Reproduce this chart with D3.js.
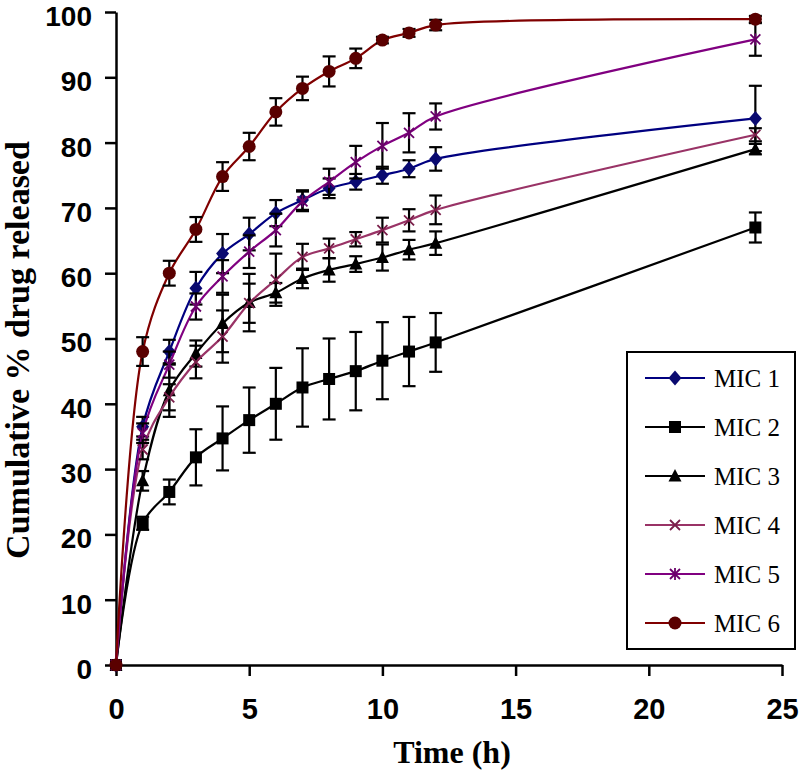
<!DOCTYPE html>
<html>
<head>
<meta charset="utf-8">
<script src="https://cdn.jsdelivr.net/npm/d3@7"></script>
<style>
  html, body { margin: 0; padding: 0; background: #fff; }
  svg { display: block; }
</style>
</head>
<body>
<svg id="chart" width="799" height="774"></svg>
<script>
// ---- data ----
const time = [0, 1, 2, 3, 4, 5, 6, 7, 8, 9, 10, 11, 12, 24];
const seriesNames = ["MIC 1", "MIC 2", "MIC 3", "MIC 4", "MIC 5", "MIC 6"];
const mic1 = [0, 36.5, 48, 57.7, 63, 66, 69.2, 71.2, 73, 74, 75, 76, 77.5, 83.7];
const mic1Err = [0, 1.5, 1.8, 2.5, 3, 2.5, 2, 1.5, 1.5, 1.2, 1.3, 1.3, 1.8, 5];
const mic2 = [0, 21.7, 26.5, 31.8, 34.7, 37.5, 40, 42.5, 43.8, 45, 46.6, 48, 49.4, 67];
const mic2Err = [0, 1, 1.9, 4.3, 4.9, 5, 5.5, 6, 6.2, 6, 5.9, 5.3, 4.5, 2.3];
const mic3 = [0, 28.2, 42, 47.7, 52.3, 55.5, 57, 59.2, 60.5, 61.4, 62.4, 63.6, 64.6, 79];
const mic3Err = [0, 1.5, 4, 2, 4.4, 4.4, 1.5, 1.5, 1.8, 1.2, 2, 1.5, 1.8, 0.8];
const mic4 = [0, 33, 41, 46.4, 50.3, 55.4, 59, 62.5, 63.8, 65.2, 66.6, 68.1, 69.7, 81.2];
const mic4Err = [0, 1.5, 2, 2.5, 4, 3, 4, 2, 1.5, 1.1, 1.9, 1.7, 2.2, 1];
const mic5 = [0, 35.5, 46, 54.9, 59.5, 63.3, 66.6, 71, 74, 77, 79.5, 81.5, 84, 95.8];
const mic5Err = [0, 1.5, 2, 2, 2.5, 2.5, 2.5, 1.5, 2, 2.5, 3.5, 3, 2, 2.5];
const mic6 = [0, 48, 60, 66.7, 74.8, 79.4, 84.7, 88.3, 90.9, 92.9, 95.7, 96.8, 98, 98.9];
const mic6Err = [0, 2.2, 1.9, 1.9, 2.2, 2.1, 2.1, 1.8, 2.3, 1.5, 0.5, 0.6, 0.8, 0.5];
const xTicks = [0, 5, 10, 15, 20, 25];
const yTicks = [0, 10, 20, 30, 40, 50, 60, 70, 80, 90, 100];

// ---- styles ----
const lineColors = ["#000080", "#000000", "#000000", "#993366", "#800080", "#800000"];
const markerColors = ["#0a0a70", "#000000", "#000000", "#7a1f4a", "#6a006a", "#5a0000"];
const markerTypes = ["diamond", "square", "triangle", "x", "star", "circle"];

const values = [mic1, mic2, mic3, mic4, mic5, mic6];
const errors = [mic1Err, mic2Err, mic3Err, mic4Err, mic5Err, mic6Err];
const series = seriesNames.map((name, i) => ({
  name, color: lineColors[i], mcolor: markerColors[i], marker: markerTypes[i],
  points: time.map((t, j) => ({ t, v: values[i][j], e: errors[i][j] }))
}));

const W = 799, H = 774;
const margin = { left: 116, right: 17, top: 12, bottom: 109 };
const svg = d3.select("#chart");

const x = d3.scaleLinear().domain([0, 25]).range([margin.left, W - margin.right]);
const y = d3.scaleLinear().domain([0, 100]).range([H - margin.bottom, margin.top]);

// axes
const xAxis = svg.append("g")
  .attr("transform", `translate(0,${y(0)})`)
  .call(d3.axisBottom(x).tickValues(xTicks).tickSize(11).tickSizeOuter(0).tickPadding(22));
const yAxis = svg.append("g")
  .attr("transform", `translate(${x(0)},0)`)
  .call(d3.axisLeft(y).tickValues(yTicks).tickSize(11).tickSizeOuter(0).tickPadding(13));
[xAxis, yAxis].forEach(g => {
  g.selectAll("path, line").attr("stroke", "#000").attr("stroke-width", 2.5);
  g.selectAll("text").attr("fill", "#000")
    .style("font-family", "'Liberation Sans', Arial, sans-serif")
    .style("font-weight", "bold").style("font-size", "28px");
});
xAxis.selectAll("text").style("font-size", "29px");
yAxis.selectAll("text").attr("dy", "0.48em");

// axis titles
svg.append("text")
  .attr("x", 452).attr("y", 763)
  .attr("text-anchor", "middle")
  .style("font-family", "'Liberation Serif', 'Times New Roman', serif")
  .style("font-weight", "bold").style("font-size", "32px")
  .text("Time (h)");
svg.append("text")
  .attr("transform", "translate(29,350) rotate(-90)")
  .attr("text-anchor", "middle")
  .style("font-family", "'Liberation Serif', 'Times New Roman', serif")
  .style("font-weight", "bold").style("font-size", "34px")
  .text("Cumulative % drug released");

// marker drawing
function drawMarker(g, type, color) {
  switch (type) {
    case "diamond":
      g.append("path").attr("d", "M0,-7.5L6.5,0L0,7.5L-6.5,0Z").attr("fill", color);
      break;
    case "square":
      g.append("rect").attr("x", -6).attr("y", -6).attr("width", 12).attr("height", 12).attr("fill", color);
      break;
    case "triangle":
      g.append("path").attr("d", "M0,-7L6.5,5.5L-6.5,5.5Z").attr("fill", color);
      break;
    case "x":
      g.append("path").attr("d", "M-5,-5L5,5M-5,5L5,-5").attr("stroke", color).attr("stroke-width", 1.8).attr("fill", "none");
      break;
    case "star":
      g.append("path").attr("d", "M-5,-5L5,5M-5,5L5,-5M0,-6L0,6").attr("stroke", color).attr("stroke-width", 1.8).attr("fill", "none");
      break;
    case "circle":
      g.append("circle").attr("r", 6.5).attr("fill", color);
      break;
  }
}

const line = d3.line().x(d => x(d.t)).y(d => y(d.v)).curve(d3.curveCatmullRom.alpha(0.5));

series.forEach(s => {
  const g = svg.append("g");
  g.append("path").datum(s.points).attr("d", line)
    .attr("fill", "none").attr("stroke", s.color).attr("stroke-width", 2.2);
  // error bars
  const eb = g.selectAll(".eb").data(s.points.filter(p => p.e > 0)).join("g");
  eb.append("line").attr("x1", d => x(d.t)).attr("x2", d => x(d.t))
    .attr("y1", d => y(d.v + d.e)).attr("y2", d => y(d.v - d.e))
    .attr("stroke", "#000").attr("stroke-width", 2.2);
  [1, -1].forEach(sg => {
    eb.append("line").attr("x1", d => x(d.t) - 6.5).attr("x2", d => x(d.t) + 6.5)
      .attr("y1", d => y(d.v + sg * d.e)).attr("y2", d => y(d.v + sg * d.e))
      .attr("stroke", "#000").attr("stroke-width", 2.2);
  });
  s.points.forEach(p => {
    const mg = g.append("g").attr("transform", `translate(${x(p.t)},${y(p.v)})`);
    drawMarker(mg, s.marker, s.mcolor);
  });
});

// legend
const lg = svg.append("g");
lg.append("rect").attr("x", 627).attr("y", 352).attr("width", 168).attr("height", 297)
  .attr("fill", "#fff").attr("stroke", "#000").attr("stroke-width", 2);
series.forEach((s, i) => {
  const yy = 378 + i * 49;
  lg.append("line").attr("x1", 645).attr("x2", 705).attr("y1", yy).attr("y2", yy)
    .attr("stroke", s.color).attr("stroke-width", 2.2);
  const mg = lg.append("g").attr("transform", `translate(675,${yy})`);
  drawMarker(mg, s.marker, s.mcolor);
  lg.append("text").attr("x", 714).attr("y", yy).attr("dy", "0.35em")
    .style("font-family", "'Liberation Serif', 'Times New Roman', serif")
    .style("font-size", "25px").attr("fill", "#000")
    .text(s.name);
});
</script>
</body>
</html>
